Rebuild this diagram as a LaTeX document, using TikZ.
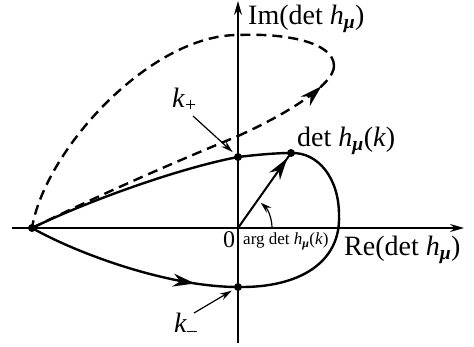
\documentclass[tikz,border=0pt]{standalone}
\usepackage{fontspec}
\setmainfont{Liberation Serif}
\usetikzlibrary{arrows.meta,decorations.markings}
\newcommand{\hmu}{\textit{h}\textsubscript{\textbf{\textit{μ}}}}
\begin{document}
\begin{tikzpicture}[x=1pt,y=-1pt,
  axisline/.style={line width=1.4pt,-{Stealth[length=14pt,width=8pt]}},
  curve/.style={line width=2.4pt},
  dashcurve/.style={line width=2.4pt,dash pattern=on 10pt off 6pt},
  dot/.style={circle,fill=black,inner sep=0pt,minimum size=8pt},
  pointer/.style={line width=1.2pt,-{Stealth[length=12pt,width=7pt]},shorten >=3pt},
  lbl/.style={inner sep=0pt,font=\fontsize{28}{30}\selectfont},
  smalllbl/.style={inner sep=0pt,font=\fontsize{17}{19}\selectfont},
  midarrow/.style={postaction={decorate,decoration={markings,
      mark=at position #1 with {\arrow{Stealth[length=22pt,width=13pt]}}}}}
]
\useasboundingbox (0,0) rectangle (474,347);
% axes
\coordinate (xl) at (12,228);
\coordinate (xr) at (464,228);
\coordinate (yb) at (238,343);
\coordinate (yt) at (238,1);
\draw[axisline] (xl) -- (xr);
\draw[axisline] (yb) -- (yt);
% points
\node[dot] (L) at (32,228) {};
\node[dot] (Kp) at (238,157) {};
\node[dot] (D) at (291,153) {};
\node[dot] (Km) at (238,287) {};
\coordinate (O) at (238,228);
\coordinate (R) at (339,215);
\coordinate (M) at (238,136);
\coordinate (E) at (334,66);
\coordinate (T) at (238,35);
% solid closed curve
\draw[curve] (L.center) .. controls (90,200) and (180,168) .. (Kp.center)
  .. controls (255,155) and (275,153) .. (D.center)
  .. controls (318,152) and (339,178) .. (R)
  .. controls (341,262) and (300,288) .. (Km.center);
\draw[curve,midarrow=0.8] (L.center) .. controls (80,255) and (170,287) .. (Km.center);
% dashed curve
\draw[dashcurve] (L.center) .. controls (110,190) and (180,160) .. (M);
\draw[dashcurve,midarrow=0.8] (M) .. controls (285,115) and (334,85) .. (E);
\draw[dashcurve] (E) .. controls (334,42) and (285,33) .. (T)
  .. controls (150,35) and (45,150) .. (L.center);
% vector and angle
\draw[line width=2pt,midarrow=0.93] (O) -- (D.center);
\draw[line width=1.2pt,-{Stealth[length=11pt,width=7pt]}] ([shift={(34,0)}]O) arc[start angle=0,end angle=-48,radius=34];
% labels
\node[lbl,anchor=base west] (im) at (248,25) {Im(det \hmu)};
\node[lbl,anchor=base west] (re) at (344,256) {Re(det \hmu)};
\node[lbl,anchor=base west] (dl) at (297,147) {det \hmu(\textit{k})};
\node[lbl,anchor=base,font=\fontsize{24}{26}\selectfont] (zero) at (229,248) {0};
\node[smalllbl,anchor=base west] (arg) at (243,245) {arg det \hmu(\textit{k})};
\node[lbl,anchor=base west] (kpl) at (172,108) {\textit{k}\textsubscript{+}};
\node[lbl,anchor=base west] (kml) at (174,333) {\textit{k}\textsubscript{–}};
\draw[pointer] (193,116) -- (Kp);
\draw[pointer] (194,313) -- (Km);
\end{tikzpicture}
\end{document}
